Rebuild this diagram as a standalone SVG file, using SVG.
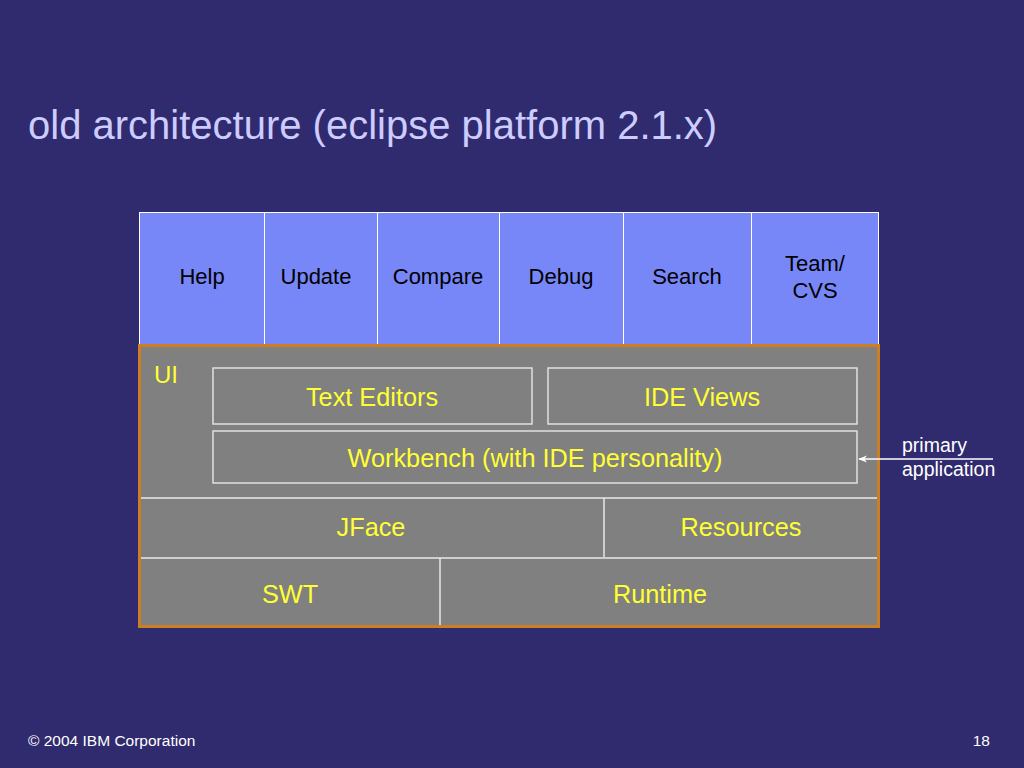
<svg xmlns="http://www.w3.org/2000/svg" width="1024" height="768" viewBox="0 0 1024 768">
<defs>
<style>
.top{fill:#7787F7;stroke:#FFFFFF;stroke-width:1}
.tl{font-family:"Liberation Sans",Arial,sans-serif;font-size:22px;fill:#000000;text-anchor:middle}
.gb{fill:#808080;stroke:#E0E0E0;stroke-width:1.5}
.yl{font-family:"Liberation Sans",Arial,sans-serif;font-size:25.3px;fill:#FFFF33;text-anchor:middle}
.wl{stroke:#E8E8E8;stroke-width:1.5;fill:none}
.note{font-family:"Liberation Sans",Arial,sans-serif;font-size:19.5px;fill:#FFFFFF}
</style>
<marker id="ah" viewBox="0 0 10 10" refX="9" refY="5" markerWidth="9" markerHeight="9" orient="auto" markerUnits="userSpaceOnUse">
<path d="M0,1 L10,5 L0,9 L3,5 Z" fill="#FFFFFF"/>
</marker>
</defs>
<rect x="0" y="0" width="1024" height="768" fill="#302A6E"/>
<text x="28" y="139" font-family="Liberation Sans,Arial,sans-serif" font-size="40" fill="#CCCCFF">old architecture (eclipse platform 2.1.x)</text>

<g id="top-row">
<g id="help"><rect class="top" x="139.5" y="212.5" width="125" height="132"/><text class="tl" x="202" y="284">Help</text></g>
<g id="update"><rect class="top" x="264.5" y="212.5" width="113" height="132"/><text class="tl" x="316" y="284">Update</text></g>
<g id="compare"><rect class="top" x="377.5" y="212.5" width="122" height="132"/><text class="tl" x="438" y="284">Compare</text></g>
<g id="debug"><rect class="top" x="499.5" y="212.5" width="124" height="132"/><text class="tl" x="561" y="284">Debug</text></g>
<g id="search"><rect class="top" x="623.5" y="212.5" width="128" height="132"/><text class="tl" x="687" y="284">Search</text></g>
<g id="team"><rect class="top" x="751.5" y="212.5" width="127" height="132"/><text class="tl" x="815" y="271">Team/</text><text class="tl" x="815" y="298">CVS</text></g>
</g>

<g id="platform">
<rect x="139.5" y="345.5" width="739" height="281" fill="#808080" stroke="#CC7F22" stroke-width="3"/>
<text x="154" y="383" font-family="Liberation Sans,Arial,sans-serif" font-size="24" fill="#FFFF33">UI</text>
</g>
<g id="text-editors"><rect class="gb" x="213" y="368" width="319" height="56"/><text class="yl" x="372" y="406">Text Editors</text></g>
<g id="ide-views"><rect class="gb" x="548" y="368" width="309" height="56"/><text class="yl" x="702" y="406">IDE Views</text></g>
<g id="workbench"><rect class="gb" x="213" y="431" width="644" height="52"/><text class="yl" x="535" y="467">Workbench (with IDE personality)</text></g>
<g id="jface"><path class="wl" d="M141,498 H877 M604,498 V557"/><text class="yl" x="371" y="536">JFace</text></g>
<g id="resources"><text class="yl" x="741" y="536">Resources</text></g>
<g id="swt"><path class="wl" d="M141,558 H877 M440,558 V625"/><text class="yl" x="290" y="603">SWT</text></g>
<g id="runtime"><text class="yl" x="660" y="603">Runtime</text></g>

<g id="connectors">
<line x1="993" y1="459" x2="859" y2="459" stroke="#FFFFFF" stroke-width="1.5" marker-end="url(#ah)"/>
</g>
<g id="primary-note">
<text class="note" x="902" y="452">primary</text>
<text class="note" x="902" y="476">application</text>
</g>

<text x="28" y="746" font-family="Liberation Sans,Arial,sans-serif" font-size="15.5" fill="#FFFFFF">© 2004 IBM Corporation</text>
<text x="990" y="746" font-family="Liberation Sans,Arial,sans-serif" font-size="15.5" fill="#FFFFFF" text-anchor="end">18</text>
</svg>
